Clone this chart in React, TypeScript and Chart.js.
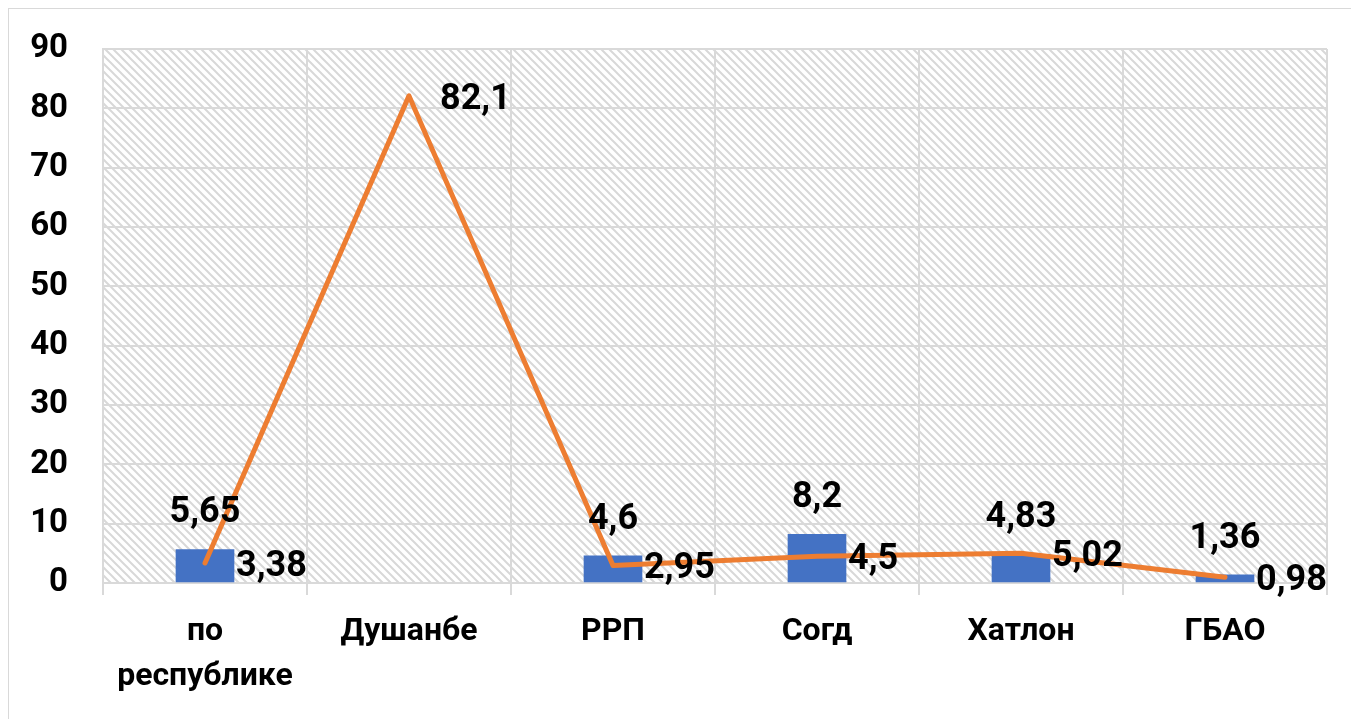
import React, { useEffect, useRef } from "react";
import { Chart, registerables } from "chart.js";

Chart.register(...registerables);

const categories: (string | string[])[] = [["по", "республике"], "Душанбе", "РРП", "Согд", "Хатлон", "ГБАО"];
const barValues: (number | null)[] = [5.65, null, 4.6, 8.2, 4.83, 1.36];
const lineValues: number[] = [3.38, 82.1, 2.95, 4.5, 5.02, 0.98];
const yMin = 0;
const yMax = 90;
const yStep = 10;

const FONT = "Roboto, 'Noto Sans', sans-serif";
const GRID = "#d9d9d9";

const fmt = (v: number) => String(v).replace(".", ",");

const hatchPlugin = {
  id: "hatch",
  beforeDraw(chart: any) {
    const { ctx, chartArea } = chart;
    if (!chartArea) return;
    const tile = document.createElement("canvas");
    const s = 8;
    tile.width = s;
    tile.height = s;
    const t = tile.getContext("2d")!;
    t.fillStyle = "#ffffff";
    t.fillRect(0, 0, s, s);
    t.strokeStyle = "#d8d8d8";
    t.lineWidth = 2;
    t.beginPath();
    t.moveTo(-s, -s);
    t.lineTo(2 * s, 2 * s);
    t.moveTo(-s, 0);
    t.lineTo(s, 2 * s);
    t.moveTo(0, -s);
    t.lineTo(2 * s, s);
    t.stroke();
    const pat = ctx.createPattern(tile, "repeat");
    ctx.save();
    ctx.fillStyle = pat;
    ctx.fillRect(chartArea.left, chartArea.top, chartArea.right - chartArea.left, chartArea.bottom - chartArea.top);
    ctx.restore();
  },
};

const labelPlugin = {
  id: "valueLabels",
  afterDatasetsDraw(chart: any) {
    const { ctx } = chart;
    ctx.save();
    ctx.font = `bold 36px ${FONT}`;
    ctx.fillStyle = "#000000";
    const barMeta = chart.getDatasetMeta(0);
    barMeta.data.forEach((el: any, i: number) => {
      const v = barValues[i];
      if (v == null) return;
      ctx.textAlign = "center";
      ctx.textBaseline = "middle";
      ctx.fillText(fmt(v), el.x, el.y - 36);
    });
    const lineMeta = chart.getDatasetMeta(1);
    lineMeta.data.forEach((el: any, i: number) => {
      const v = lineValues[i];
      ctx.textAlign = "left";
      ctx.textBaseline = "middle";
      ctx.fillText(fmt(v), el.x + 31, el.y + 4);
    });
    ctx.restore();
  },
};

export default function App() {
  const ref = useRef<HTMLCanvasElement | null>(null);
  useEffect(() => {
    if (!ref.current) return;
    const chart = new Chart(ref.current, {
      type: "bar",
      data: {
        labels: categories,
        datasets: [
          {
            type: "bar",
            data: barValues,
            backgroundColor: "#4472c4",
            barThickness: 58,
            order: 2,
          },
          {
            type: "line",
            data: lineValues,
            borderColor: "#ed7d31",
            borderWidth: 5,
            pointRadius: 0,
            tension: 0,
            borderJoinStyle: "round",
            borderCapStyle: "round",
            order: 1,
          } as any,
        ],
      },
      options: {
        responsive: false,
        animation: false,
        layout: { padding: { top: 40, left: 0, right: 15, bottom: 0 } },
        plugins: { legend: { display: false }, tooltip: { enabled: false } },
        scales: {
          x: {
            offset: true,
            grid: { color: GRID, lineWidth: 2, offset: true, drawTicks: true, tickLength: 12 },
            border: { display: true, color: GRID, width: 2 },
            ticks: {
              color: "#000000",
              font: { family: FONT, size: 32, weight: "bold", lineHeight: 1.4 },
              padding: 15,
              maxRotation: 0,
              autoSkip: false,
            },
            afterFit: (scale: any) => {
              scale.height = 135;
            },
          },
          y: {
            min: yMin,
            max: yMax,
            grid: { color: GRID, lineWidth: 2, drawTicks: false },
            border: { display: true, color: GRID, width: 2 },
            ticks: {
              stepSize: yStep,
              color: "#000000",
              font: { family: FONT, size: 33, weight: "bold" },
              padding: 35,
            },
            afterFit: (scale: any) => {
              scale.width = 94;
              scale.paddingTop = 0;
              scale.paddingBottom = 0;
            },
          },
        },
      },
      plugins: [hatchPlugin, labelPlugin],
    });
    return () => chart.destroy();
  }, []);

  return (
    <div
      style={{
        position: "fixed",
        left: 8,
        top: 8,
        width: 1360,
        height: 730,
        border: "1px solid #d9d9d9",
        boxSizing: "border-box",
        background: "#ffffff",
      }}
    >
      <canvas ref={ref} width={1333} height={709} style={{ display: "block" }} />
    </div>
  );
}
